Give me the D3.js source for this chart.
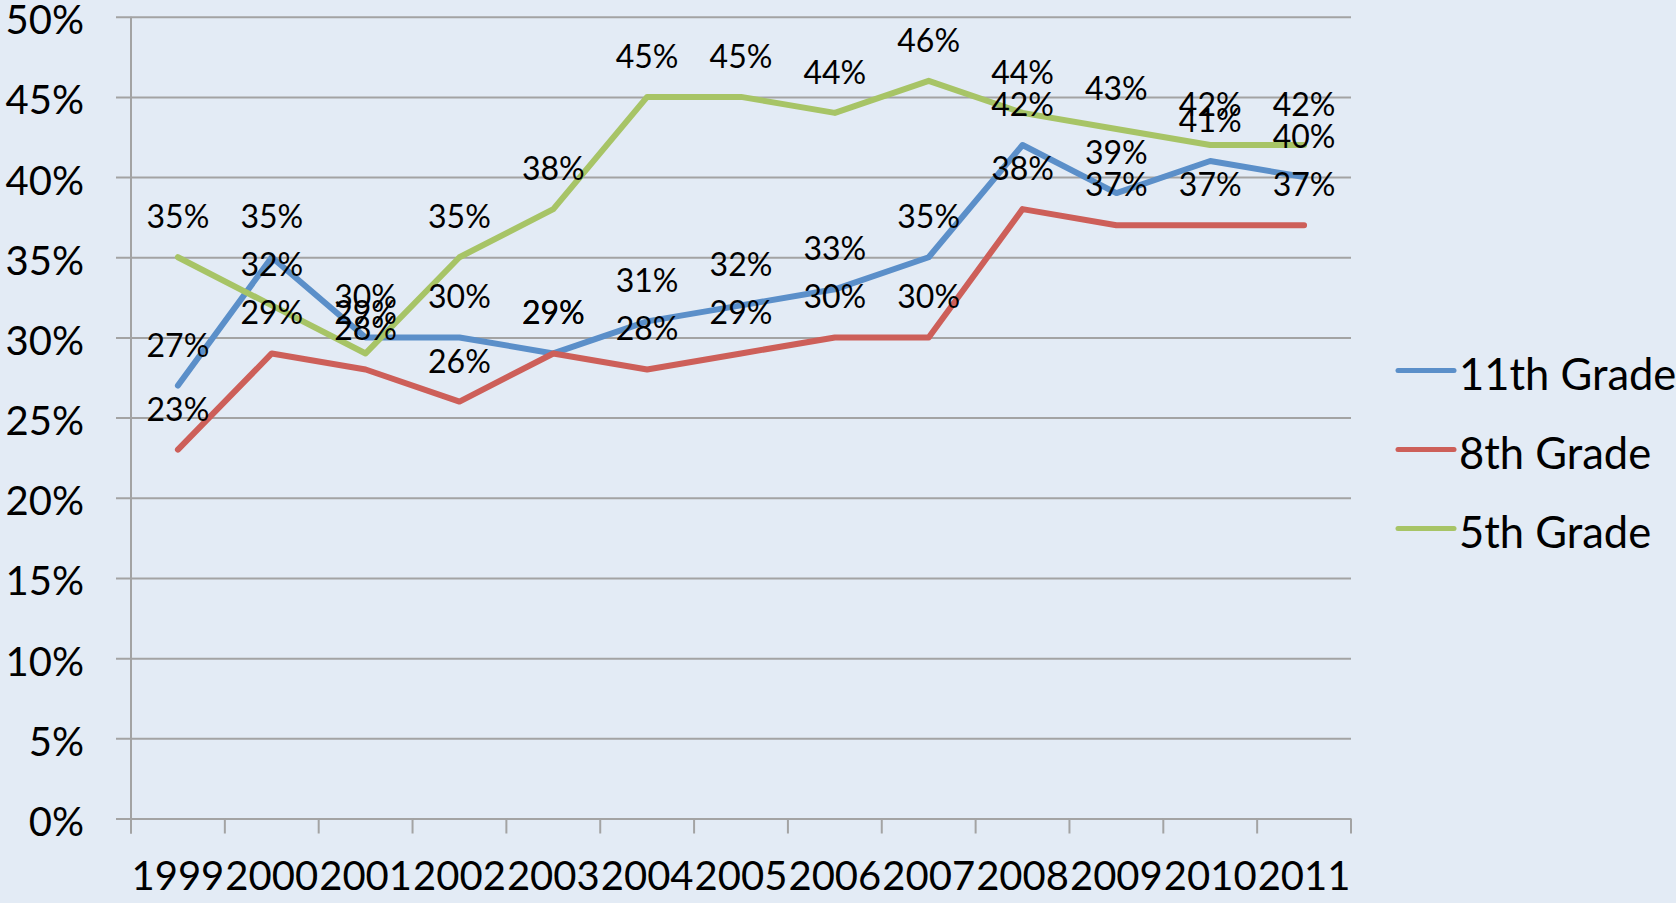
<!DOCTYPE html>
<html>
<head>
<meta charset="utf-8">
<script src="https://cdn.jsdelivr.net/npm/d3@7/dist/d3.min.js"></script>
<style>
  html, body { margin: 0; padding: 0; background: #E3EBF5; }
  svg { display: block; }
  text { font-family: Lato, "Open Sans", sans-serif; fill: #000; }
</style>
</head>
<body>
<svg id="chart" width="1676" height="903"></svg>
<script>
// Share of students by grade, 1999–2011
const years = ["1999", "2000", "2001", "2002", "2003", "2004", "2005",
               "2006", "2007", "2008", "2009", "2010", "2011"];
const grade11 = [27, 35, 30, 30, 29, 31, 32, 33, 35, 42, 39, 41, 40];
const grade8  = [23, 29, 28, 26, 29, 28, 29, 30, 30, 38, 37, 37, 37];
const grade5  = [35, 32, 29, 35, 38, 45, 45, 44, 46, 44, 43, 42, 42];
const yTicks  = [0, 5, 10, 15, 20, 25, 30, 35, 40, 45, 50];

const series = [
  { name: "11th Grade", values: grade11, color: "#5B8FC9" },
  { name: "8th Grade",  values: grade8,  color: "#CD5F59" },
  { name: "5th Grade",  values: grade5,  color: "#A7C466" }
];

(function draw() {
  const svg = d3.select("#chart");
  const W = 1676, H = 903;
  svg.append("rect").attr("width", W).attr("height", H).attr("fill", "#E3EBF5");

  const plotLeft = 131, plotRight = 1351, plotTop = 16.7, plotBottom = 818.5;
  const x = d3.scaleBand().domain(years).range([plotLeft, plotRight]).padding(0);
  const y = d3.scaleLinear().domain([0, 50]).range([plotBottom, plotTop]);
  const gridColor = "#A3A3A3";

  // horizontal gridlines + y tick labels
  const yAxis = d3.axisLeft(y).tickValues(yTicks).tickSize(-(plotRight - plotLeft)).tickSizeOuter(0)
    .tickFormat(d => d + "%").tickPadding(47);
  const gy = svg.append("g").attr("transform", `translate(${plotLeft},0)`).call(yAxis);
  gy.select(".domain").remove();
  gy.selectAll(".tick line").attr("stroke", gridColor).attr("stroke-width", 2)
    .attr("x1", -15);
  gy.selectAll(".tick text").attr("font-size", 40).attr("dy", 17)
    .style("font-family", "Lato, sans-serif").attr("fill", "#000");

  // vertical axis line
  svg.append("line").attr("x1", plotLeft).attr("x2", plotLeft)
    .attr("y1", plotTop).attr("y2", plotBottom + 15)
    .attr("stroke", gridColor).attr("stroke-width", 2);

  // category ticks at band boundaries
  const bounds = years.map(d => x(d)).concat([plotRight]);
  svg.append("g").selectAll("line").data(bounds).join("line")
    .attr("x1", d => d).attr("x2", d => d).attr("y1", plotBottom).attr("y2", plotBottom + 15)
    .attr("stroke", gridColor).attr("stroke-width", 2);

  // year labels
  svg.append("g").selectAll("text").data(years).join("text")
    .attr("x", d => x(d) + x.bandwidth() / 2).attr("y", 890)
    .attr("text-anchor", "middle").attr("font-size", 40).text(d => d);

  // lines
  const line = d3.line()
    .x((d, i) => x(years[i]) + x.bandwidth() / 2)
    .y(d => y(d));
  svg.append("g").selectAll("path").data(series).join("path")
    .attr("d", s => line(s.values))
    .attr("fill", "none").attr("stroke", s => s.color).attr("stroke-width", 6)
    .attr("stroke-linejoin", "round").attr("stroke-linecap", "round");

  // value labels above each point
  series.forEach(s => {
    svg.append("g").selectAll("text").data(s.values).join("text")
      .attr("x", (d, i) => x(years[i]) + x.bandwidth() / 2)
      .attr("y", d => y(d) - 29)
      .attr("text-anchor", "middle").attr("font-size", 32)
      .text(d => d + "%");
  });

  // legend
  const legend = svg.append("g");
  series.forEach((s, i) => {
    const by = 390 + i * 79;
    legend.append("line").attr("x1", 1398).attr("x2", 1454)
      .attr("y1", by - 19.5).attr("y2", by - 19.5)
      .attr("stroke", s.color).attr("stroke-width", 5).attr("stroke-linecap", "round");
    legend.append("text").attr("x", 1459).attr("y", by).attr("font-size", 43.5).text(s.name);
  });
})();
</script>
</body>
</html>
